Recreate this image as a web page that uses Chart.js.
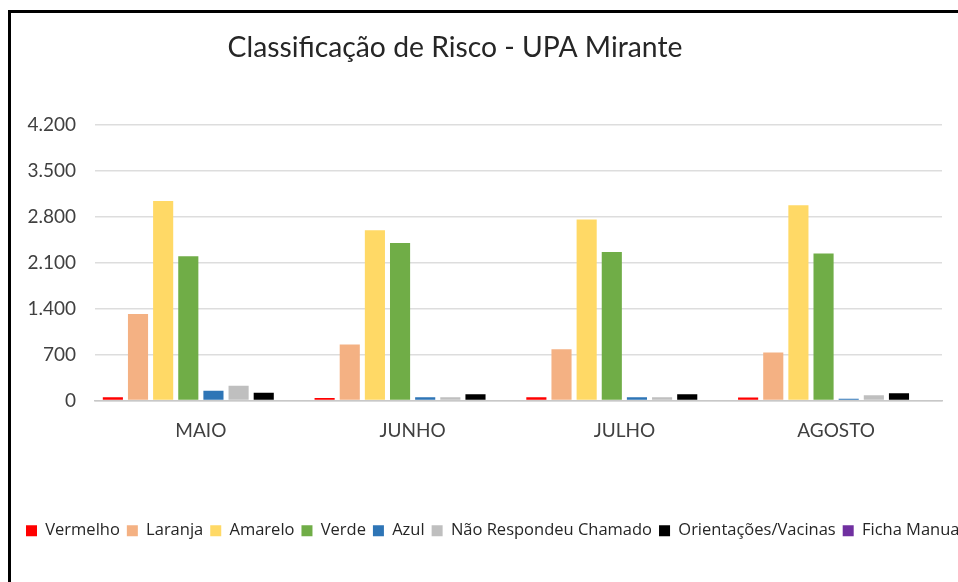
<!DOCTYPE html>
<html>
<head>
<meta charset="utf-8">
<script src="https://cdn.jsdelivr.net/npm/chart.js@4.4.0/dist/chart.umd.min.js"></script>
<style>
  html, body { margin: 0; padding: 0; background: #fff; overflow: hidden; width: 958px; height: 582px; }
  #frame { position: absolute; left: 8px; top: 10px; width: 1200px; height: 600px;
           border-left: 3px solid #000; border-top: 3px solid #000; }
  #wrap { position: absolute; left: 0; top: 0; width: 1050px; height: 569px; }
</style>
</head>
<body>
<div id="frame"><div id="wrap"><canvas id="chart1"></canvas></div></div>
<script>
// data
const months = ['MAIO', 'JUNHO', 'JULHO', 'AGOSTO'];
const vermelho = [50, 40, 50, 45];
const laranja = [1320, 855, 780, 730];
const amarelo = [3040, 2595, 2760, 2975];
const verde = [2200, 2400, 2265, 2240];
const azul = [150, 50, 50, 25];
const naoRespondeu = [225, 50, 50, 80];
const orientacoes = [120, 95, 95, 110];
const fichaManual = [0, 0, 0, 0];
const yTicks = [0, 700, 1400, 2100, 2800, 3500, 4200];
const chartTitle = 'Classificação de Risco - UPA Mirante';

/* thousands with a dot, like the excel original */
function fmt(v) {
  return String(v).replace(/\B(?=(\d{3})+(?!\d))/g, '.');
}

/* title drawn by hand so it sits where the original one is */
const titlePlugin = {
  id: 'titleAt',
  afterDraw(chart) {
    const ctx = chart.ctx;
    ctx.save();
    ctx.font = '28.3px Lato';
    ctx.fillStyle = '#262626';
    ctx.textAlign = 'center';
    ctx.textBaseline = 'middle';
    ctx.fillText(chartTitle, 444, 35);
    ctx.restore();
  }
};

const chart1 = document.getElementById('chart1');
const myChart1 = new Chart(chart1, {
  type: 'bar',
  data: {
    labels: months,
    datasets: [
      { label: 'Vermelho', data: vermelho, backgroundColor: '#FF0000' },
      { label: 'Laranja', data: laranja, backgroundColor: '#F4B183' },
      { label: 'Amarelo', data: amarelo, backgroundColor: '#FFD966' },
      { label: 'Verde', data: verde, backgroundColor: '#70AD47' },
      { label: 'Azul', data: azul, backgroundColor: '#2E75B6' },
      { label: 'Não Respondeu Chamado', data: naoRespondeu, backgroundColor: '#BFBFBF' },
      { label: 'Orientações/Vacinas', data: orientacoes, backgroundColor: '#000000' },
      { label: 'Ficha Manual', data: fichaManual, backgroundColor: '#7030A0' }
    ]
  },
  options: {
    responsive: true,
    maintainAspectRatio: false,
    animation: false,
    datasets: {
      bar: { categoryPercentage: 0.95, barPercentage: 0.8 }
    },
    layout: {
      padding: { left: 8, right: 0, top: 112, bottom: 33 }
    },
    plugins: {
      legend: {
        position: 'bottom',
        align: 'start',
        labels: {
          boxWidth: 11,
          boxHeight: 11,
          padding: 7,
          color: '#262626',
          font: { family: 'Open Sans', size: 16.5 }
        }
      },
      title: { display: false },
      tooltip: { enabled: false }
    },
    scales: {
      x: {
        grid: { display: false },
        border: { color: '#C8C8C8', width: 1.5 },
        ticks: {
          color: '#404040',
          padding: 11,
          font: { family: 'Lato', size: 19 }
        },
        afterFit: (s) => { s.height = 115; }
      },
      y: {
        min: 0,
        max: 4200,
        afterBuildTicks: (s) => { s.ticks = yTicks.map(v => ({ value: v })); },
        grid: { color: '#DDDDDD', lineWidth: 1.5, drawTicks: false },
        border: { display: false },
        ticks: {
          color: '#404040',
          padding: 19,
          font: { family: 'Lato', size: 19 },
          callback: (v) => fmt(v)
        },
        afterFit: (s) => { s.width = 76; }
      },
      /* empty axis on the right, only to keep space so the plot ends where the original does */
      spare: {
        type: 'linear',
        position: 'right',
        display: true,
        grid: { display: false },
        border: { display: false },
        ticks: { display: false },
        afterFit: (s) => { s.width = 119; }
      }
    }
  },
  plugins: [titlePlugin]
});
</script>
</body>
</html>
